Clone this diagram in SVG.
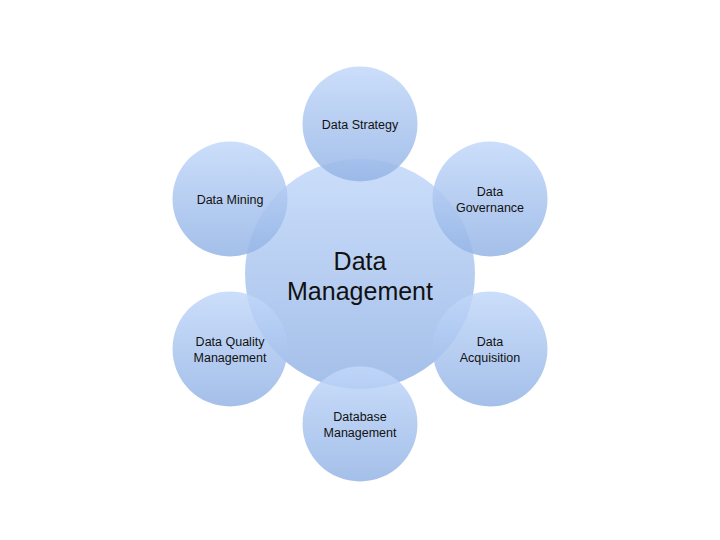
<svg xmlns="http://www.w3.org/2000/svg" width="720" height="540" viewBox="0 0 720 540">
<defs>
<linearGradient id="g" x1="0" y1="0" x2="0" y2="1">
<stop offset="0" stop-color="#c2d8fa"/>
<stop offset="1" stop-color="#94b4e5"/>
</linearGradient>
<style>
.c{fill:url(#g);fill-opacity:0.85}
.t{font-family:"Liberation Sans",Arial,sans-serif;font-size:12.5px;fill:#111;text-anchor:middle}
.big{font-family:"Liberation Sans",Arial,sans-serif;font-size:25px;fill:#111;text-anchor:middle}
</style>
</defs>
<rect width="720" height="540" fill="#ffffff"/>
<g id="center"><circle class="c" cx="360" cy="274" r="115"/></g>
<g id="strategy"><circle class="c" cx="360" cy="124" r="57.5"/><text class="t" x="360" y="129">Data Strategy</text></g>
<g id="governance"><circle class="c" cx="490" cy="199" r="57.5"/><text class="t" x="490" y="196">Data</text><text class="t" x="490" y="212">Governance</text></g>
<g id="acquisition"><circle class="c" cx="490" cy="349" r="57.5"/><text class="t" x="490" y="346">Data</text><text class="t" x="490" y="362">Acquisition</text></g>
<g id="database"><circle class="c" cx="360" cy="424" r="57.5"/><text class="t" x="360" y="421">Database</text><text class="t" x="360" y="437">Management</text></g>
<g id="quality"><circle class="c" cx="230" cy="349" r="57.5"/><text class="t" x="230" y="346">Data Quality</text><text class="t" x="230" y="362">Management</text></g>
<g id="mining"><circle class="c" cx="230" cy="199" r="57.5"/><text class="t" x="230" y="204">Data Mining</text></g>
<g id="center-label"><text class="big" x="360" y="270">Data</text><text class="big" x="360" y="300">Management</text></g>
<g id="connectors"></g>
</svg>
